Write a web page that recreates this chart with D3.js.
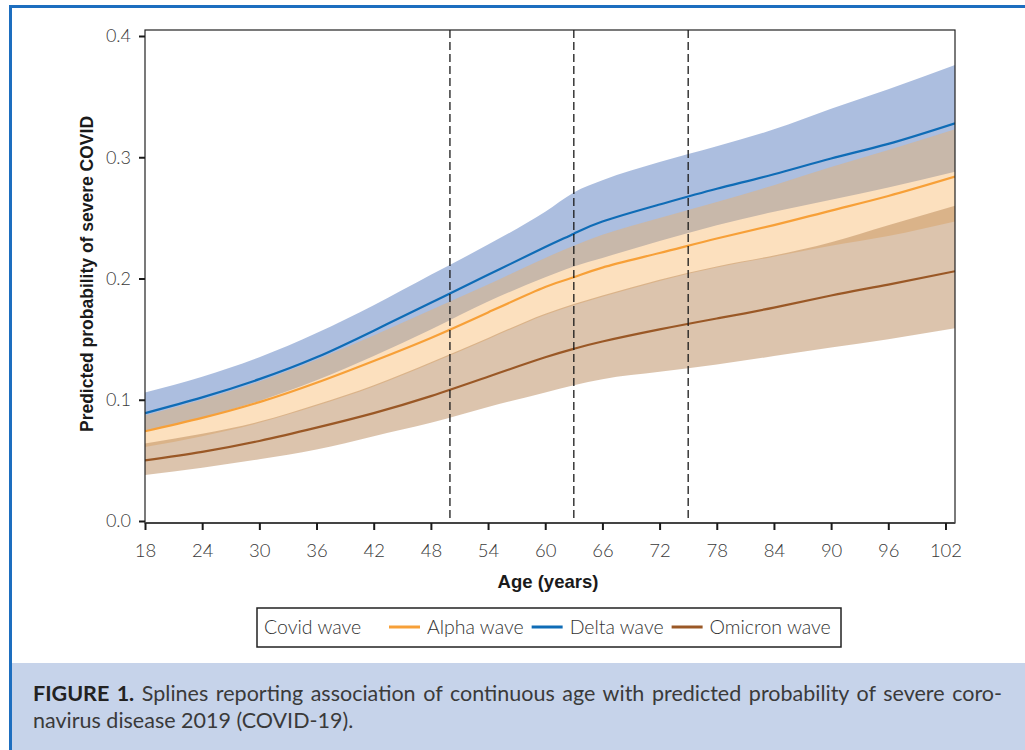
<!DOCTYPE html>
<html>
<head>
<meta charset="utf-8">
<script src="https://cdn.jsdelivr.net/npm/d3@7"></script>
<style>
body { margin: 0; background: #fff; }
svg { display: block; }
</style>
</head>
<body>
<div id="chart"></div>
<script>
// ages where the spline values were read
var ages = [18, 24, 30, 36, 42, 48, 54, 60, 63, 66, 72, 78, 84, 90, 96, 103];

var alphaFit  = [0.074, 0.085, 0.098, 0.114, 0.132, 0.151, 0.172, 0.193, 0.201, 0.209, 0.221, 0.233, 0.244, 0.256, 0.268, 0.284];
var alphaLow  = [0.061, 0.070, 0.081, 0.095, 0.111, 0.130, 0.150, 0.170, 0.178, 0.185, 0.198, 0.209, 0.218, 0.227, 0.235, 0.247];
var alphaHigh = [0.087, 0.100, 0.115, 0.133, 0.153, 0.174, 0.195, 0.217, 0.227, 0.236, 0.250, 0.263, 0.277, 0.292, 0.306, 0.323];

var deltaFit  = [0.089, 0.102, 0.117, 0.135, 0.157, 0.180, 0.203, 0.226, 0.237, 0.247, 0.261, 0.274, 0.286, 0.299, 0.311, 0.328];
var deltaLow  = [0.074, 0.085, 0.099, 0.116, 0.136, 0.158, 0.181, 0.201, 0.210, 0.217, 0.231, 0.244, 0.255, 0.265, 0.275, 0.288];
var deltaHigh = [0.106, 0.119, 0.135, 0.155, 0.178, 0.203, 0.228, 0.255, 0.271, 0.281, 0.296, 0.309, 0.323, 0.340, 0.356, 0.376];

var omicronFit  = [0.050, 0.057, 0.066, 0.077, 0.089, 0.103, 0.119, 0.135, 0.142, 0.148, 0.158, 0.167, 0.176, 0.186, 0.195, 0.206];
var omicronLow  = [0.038, 0.044, 0.051, 0.059, 0.070, 0.081, 0.094, 0.106, 0.112, 0.117, 0.123, 0.129, 0.136, 0.143, 0.150, 0.159];
var omicronHigh = [0.064, 0.072, 0.082, 0.096, 0.112, 0.131, 0.151, 0.171, 0.179, 0.186, 0.199, 0.210, 0.219, 0.230, 0.244, 0.260];

var waveNames = ["Alpha wave", "Delta wave", "Omicron wave"];
var cutoffAges = [50, 63, 75];
var xTicks = [18, 24, 30, 36, 42, 48, 54, 60, 66, 72, 78, 84, 90, 96, 102];
var yTicks = [0, 0.1, 0.2, 0.3, 0.4];

var lightFont = "Lato, 'Open Sans', sans-serif";
var boldFont = "'Liberation Sans', Arial, sans-serif";

function rows(fit, low, high) {
    return ages.map(function(a, i) {
        return {age: a, fit: fit[i], low: low[i], high: high[i]};
    });
}

// band fill is drawn translucent so overlaps mix like the original
var waves = [
    {name: waveNames[1], line: "#0f6cb6", fill: "rgb(48,93,175)", op: 0.4, data: rows(deltaFit, deltaLow, deltaHigh)},
    {name: waveNames[0], line: "#f7a038", fill: "rgb(247,174,84)", op: 0.38, data: rows(alphaFit, alphaLow, alphaHigh)},
    {name: waveNames[2], line: "#9a5826", fill: "rgb(177,124,73)", op: 0.45, data: rows(omicronFit, omicronLow, omicronHigh)}
];

var svg = d3.select("#chart").append("svg")
    .attr("width", 1025)
    .attr("height", 750);

// page frame + caption panel
svg.append("rect").attr("x", 12).attr("y", 663).attr("width", 1013).attr("height", 87).attr("fill", "#c6d3ea");
svg.append("rect").attr("x", 9).attr("y", 5).attr("width", 1016).attr("height", 3).attr("fill", "#1d6ebf");
svg.append("rect").attr("x", 9).attr("y", 5).attr("width", 3).attr("height", 745).attr("fill", "#1d6ebf");

var plot = {left: 145, right: 955, top: 30, bottom: 523};

var x = d3.scaleLinear().domain([18, 103]).range([plot.left, plot.right]);
var y = d3.scaleLinear().domain([0, 0.4]).range([521, 36]);

svg.append("clipPath").attr("id", "clip")
    .append("rect")
    .attr("x", plot.left).attr("y", plot.top)
    .attr("width", plot.right - plot.left).attr("height", plot.bottom - plot.top);

var g = svg.append("g").attr("clip-path", "url(#clip)");

var area = d3.area()
    .x(function(d) { return x(d.age); })
    .y0(function(d) { return y(d.low); })
    .y1(function(d) { return y(d.high); })
    .curve(d3.curveMonotoneX);

var line = d3.line()
    .x(function(d) { return x(d.age); })
    .y(function(d) { return y(d.fit); })
    .curve(d3.curveNatural);

g.selectAll(".band")
    .data(waves)
    .enter().append("path")
    .attr("class", "band")
    .attr("d", function(d) { return area(d.data); })
    .attr("fill", function(d) { return d.fill; })
    .attr("fill-opacity", function(d) { return d.op; });

g.selectAll(".fit")
    .data(waves)
    .enter().append("path")
    .attr("class", "fit")
    .attr("d", function(d) { return line(d.data); })
    .attr("fill", "none")
    .attr("stroke", function(d) { return d.line; })
    .attr("stroke-width", 2.2);

g.selectAll(".cutoff")
    .data(cutoffAges)
    .enter().append("line")
    .attr("class", "cutoff")
    .attr("x1", function(d) { return x(d); })
    .attr("x2", function(d) { return x(d); })
    .attr("y1", plot.top)
    .attr("y2", plot.bottom)
    .attr("stroke", "#1a1a1a")
    .attr("stroke-width", 1.3)
    .attr("stroke-dasharray", "8,4");

// plot box
svg.append("rect")
    .attr("x", plot.left).attr("y", plot.top)
    .attr("width", plot.right - plot.left).attr("height", plot.bottom - plot.top)
    .attr("fill", "none")
    .attr("stroke", "#222")
    .attr("stroke-width", 1.2);

svg.append("line")
    .attr("x1", plot.left).attr("x2", plot.right)
    .attr("y1", plot.bottom).attr("y2", plot.bottom)
    .attr("stroke", "#444").attr("stroke-width", 2);

var yAxis = svg.append("g")
    .attr("transform", "translate(" + plot.left + ",0)")
    .call(d3.axisLeft(y).tickValues(yTicks).tickSize(6).tickPadding(8).tickFormat(d3.format(".1f")));

var xAxis = svg.append("g")
    .attr("transform", "translate(0," + plot.bottom + ")")
    .call(d3.axisBottom(x).tickValues(xTicks).tickSize(7));

[yAxis, xAxis].forEach(function(ax) {
    ax.select(".domain").remove();
    ax.selectAll(".tick line").attr("stroke", "#1a1a1a").attr("stroke-width", 2);
    ax.selectAll(".tick text")
        .attr("font-family", lightFont)
        .attr("font-weight", 300)
        .attr("fill", "#3a3a3a");
});
yAxis.selectAll(".tick text").attr("font-size", 18);
xAxis.selectAll(".tick text").attr("font-size", 18.5).attr("y", 34).attr("dy", 0);

svg.append("text")
    .attr("transform", "translate(93,274) rotate(-90)")
    .attr("text-anchor", "middle")
    .attr("font-family", boldFont)
    .attr("font-weight", "bold")
    .attr("font-size", 17.5)
    .attr("fill", "#1a1a1a")
    .text("Predicted probability of severe COVID");

svg.append("text")
    .attr("x", 548).attr("y", 588)
    .attr("text-anchor", "middle")
    .attr("font-family", boldFont)
    .attr("font-weight", "bold")
    .attr("font-size", 18.5)
    .attr("fill", "#1a1a1a")
    .text("Age (years)");

// legend
var legend = svg.append("g");
legend.append("rect")
    .attr("x", 257).attr("y", 608).attr("width", 584).attr("height", 39)
    .attr("fill", "#fff").attr("stroke", "#222").attr("stroke-width", 1.5);

legend.append("text")
    .attr("x", 264).attr("y", 634)
    .attr("font-family", lightFont).attr("font-weight", 300).attr("font-size", 19.5)
    .attr("fill", "#333")
    .text("Covid wave");

var legendOrder = [waves[1], waves[0], waves[2]];
var cx = 389;
legendOrder.forEach(function(w) {
    legend.append("line")
        .attr("x1", cx).attr("x2", cx + 31)
        .attr("y1", 627).attr("y2", 627)
        .attr("stroke", w.line).attr("stroke-width", 3);
    var t = legend.append("text")
        .attr("x", cx + 38).attr("y", 634)
        .attr("font-family", lightFont).attr("font-weight", 300).attr("font-size", 19.5)
        .attr("fill", "#333")
        .text(w.name);
    cx = cx + 38 + t.node().getComputedTextLength() + 8;
});

// caption, first line justified
var cap1 = svg.append("text")
    .attr("x", 33).attr("y", 701)
    .attr("font-family", lightFont).attr("font-size", 21.5)
    .attr("fill", "#3a3a3a");
cap1.append("tspan").attr("font-weight", "bold").attr("fill", "#222").text("FIGURE 1.");
cap1.append("tspan").text(" Splines reporting association of continuous age with predicted probability of severe coro-");

var capSpaces = cap1.text().split(" ").length - 1;
var natural = cap1.node().getComputedTextLength();
cap1.attr("word-spacing", Math.max(0, (1002 - 33 - natural) / capSpaces));

svg.append("text")
    .attr("x", 33).attr("y", 728)
    .attr("font-family", lightFont).attr("font-size", 21.5)
    .attr("fill", "#3a3a3a")
    .text("navirus disease 2019 (COVID-19).");
</script>
</body>
</html>
